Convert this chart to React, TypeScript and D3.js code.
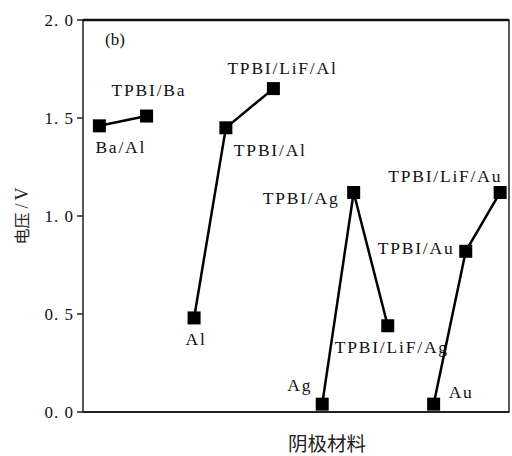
import React from "react";
import { scaleLinear, line } from "d3";

// cathode groups, each a connected line
const groups = ["Ba", "Al", "Ag", "Au"];
const names = [
  ["Ba/Al", "TPBI/Ba"],
  ["Al", "TPBI/Al", "TPBI/LiF/Al"],
  ["Ag", "TPBI/Ag", "TPBI/LiF/Ag"],
  ["Au", "TPBI/Au", "TPBI/LiF/Au"],
];
const xPos = [
  [0.5, 1.94],
  [3.39, 4.36, 5.81],
  [7.3, 8.26, 9.3],
  [10.7, 11.68, 12.73],
];
const volts = [
  [1.46, 1.51],
  [0.48, 1.45, 1.65],
  [0.04, 1.12, 0.44],
  [0.04, 0.82, 1.12],
];
const yTicks = [0, 0.5, 1.0, 1.5, 2.0];

// label offsets relative to marker (dx, dy, anchor)
const labelPos: Record<string, [number, number, string]> = {
  "Ba/Al": [-4, 27, "start"],
  "TPBI/Ba": [-35, -20, "start"],
  "Al": [2, 27, "middle"],
  "TPBI/Al": [8, 28, "start"],
  "TPBI/LiF/Al": [-46, -15, "start"],
  "Ag": [-35, -13, "start"],
  "TPBI/Ag": [-91, 12, "start"],
  "TPBI/LiF/Ag": [-53, 27, "start"],
  "Au": [15, -6, "start"],
  "TPBI/Au": [-88, 3, "start"],
  "TPBI/LiF/Au": [-112, -10, "start"],
};

const W = 512, H = 456;
const left = 83, right = 509, top = 20, bottom = 412;

export default function App() {
  const x = scaleLinear().domain([0, 13]).range([left, right]);
  const y = scaleLinear().domain([0, 2]).range([bottom, top]);
  const path = line<[number, number]>()
    .x((d) => x(d[0]))
    .y((d) => y(d[1]));
  const serif = "'Liberation Serif', 'DejaVu Serif', serif";
  const cjk = "'Noto Sans CJK SC', sans-serif";

  return (
    <svg
      width={W}
      height={H}
      style={{ position: "absolute", left: 0, top: 0, background: "#fff" }}
    >
      <rect x={left} y={top} width={right - left} height={bottom - top} fill="none" stroke="#222" strokeWidth={1.5} />
      <line x1={left} x2={right} y1={top} y2={top} stroke="#111" strokeWidth={2.5} />
      <line x1={left} x2={right} y1={bottom} y2={bottom} stroke="#222" strokeWidth={2} />
      {yTicks.map((t) => (
        <g key={t}>
          <line x1={left - 6} x2={left} y1={y(t)} y2={y(t)} stroke="#222" strokeWidth={1.5} />
          <text
            x={left - 9}
            y={y(t)}
            dy="0.35em"
            textAnchor="end"
            fontFamily={serif}
            fontSize={17}
            letterSpacing={1}
            fill="#111"
          >
            {t.toFixed(1).replace(".", ". ")}
          </text>
        </g>
      ))}
      <text x={105} y={45} fontFamily={serif} fontSize={17} fill="#111">
        (b)
      </text>
      {groups.map((g, gi) => {
        const pts = xPos[gi].map((v, i) => [v, volts[gi][i]] as [number, number]);
        return (
          <g key={g}>
            <path d={path(pts) ?? ""} fill="none" stroke="#000" strokeWidth={2.5} />
            {pts.map((p, i) => (
              <rect key={i} x={x(p[0]) - 6.5} y={y(p[1]) - 6.5} width={13} height={13} fill="#000" />
            ))}
            {names[gi].map((n, i) => {
              const [dx, dy, anchor] = labelPos[n];
              return (
                <text
                  key={n}
                  x={x(xPos[gi][i]) + dx}
                  y={y(volts[gi][i]) + dy}
                  textAnchor={anchor as any}
                  fontFamily={serif}
                  fontSize={17.5}
                  letterSpacing={1.8}
                  fill="#111"
                >
                  {n}
                </text>
              );
            })}
          </g>
        );
      })}
      <text
        transform={`translate(28, 216) rotate(-90)`}
        textAnchor="middle"
        fontFamily={cjk}
        fontSize={16}
        fill="#222"
      >
        电压
        <tspan fontFamily={serif} fontSize={18} dx={4}>/</tspan>
        <tspan fontFamily={serif} fontSize={18} dx={3}>V</tspan>
      </text>
      <text x={327} y={451} textAnchor="middle" fontFamily={cjk} fontSize={19.5} fill="#222">
        阴极材料
      </text>
    </svg>
  );
}
